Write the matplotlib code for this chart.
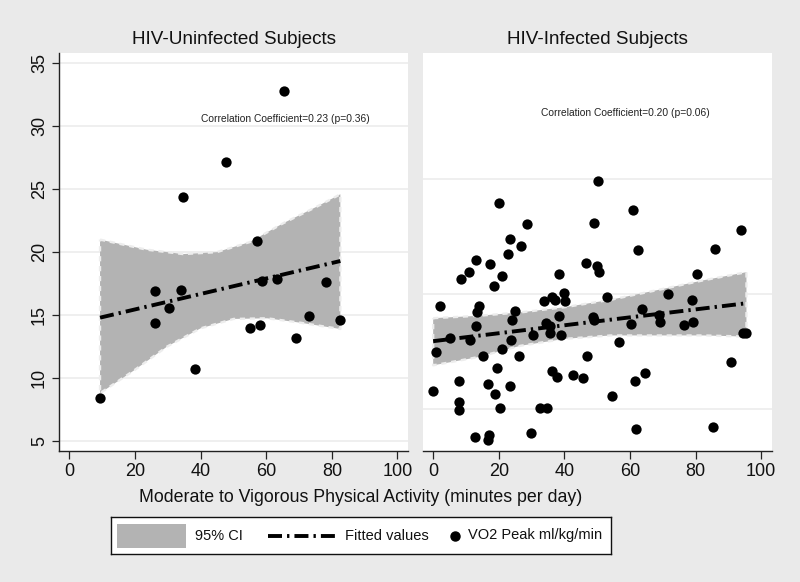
import matplotlib
matplotlib.use("Agg")
import matplotlib.pyplot as plt
from matplotlib.patches import Rectangle
from matplotlib.lines import Line2D

plt.rcParams['font.family'] = ['Liberation Sans', 'DejaVu Sans']

# ---------------- data ----------------
panel_titles = ["HIV-Uninfected Subjects", "HIV-Infected Subjects"]
x_label = "Moderate to Vigorous Physical Activity (minutes per day)"
x_ticks = [0, 20, 40, 60, 80, 100]
left_y_ticks = [5, 10, 15, 20, 25, 30, 35]
right_y_grid = [10, 20, 30]
annot_left = "Correlation Coefficient=0.23 (p=0.36)"
annot_right = "Correlation Coefficient=0.20 (p=0.06)"
legend_labels = ["95% CI", "Fitted values", "VO2 Peak ml/kg/min"]

uninf_x = [9.4, 26.2, 26.2, 30.4, 34.1, 34.7, 38.4, 47.7, 55.0, 57.1,
           58.2, 58.6, 63.2, 65.4, 69.0, 73.1, 78.2, 82.6]
uninf_y = [8.4, 16.9, 14.4, 15.6, 17.0, 24.4, 10.7, 27.2, 14.0, 20.9,
           14.2, 17.7, 17.9, 32.8, 13.2, 14.9, 17.6, 14.6]
uninf_fit_x = [9.4, 82.6]
uninf_fit_y = [14.8, 19.3]
uninf_ci_up_x = [9.4, 23.6, 34.7, 44.9, 55.0, 65.2, 75.3, 82.6]
uninf_ci_up_y = [21.0, 20.2, 19.85, 20.0, 20.8, 22.3, 23.6, 24.6]
uninf_ci_lo_x = [9.4, 19.7, 29.8, 40.0, 50.1, 60.3, 70.4, 82.6]
uninf_ci_lo_y = [8.8, 10.6, 12.5, 13.95, 14.7, 14.75, 14.4, 13.9]

inf_x = [0.0, 1.0, 2.2, 5.1, 7.9, 7.9, 7.9, 8.6, 10.8, 11.2,
         12.7, 13.0, 13.0, 13.3, 13.9, 15.1, 16.7, 17.1, 16.8, 17.3,
         18.5, 18.9, 19.6, 20.1, 20.4, 21.0, 21.1, 22.8, 23.4, 23.5,
         23.8, 24.1, 24.9, 26.2, 26.9, 28.6, 29.9, 30.4, 32.5, 33.8,
         34.3, 34.7, 35.6, 35.7, 36.2, 36.2, 37.1, 37.6, 38.5, 38.5,
         38.9, 40.0, 40.3, 42.5, 45.6, 46.7, 46.9, 48.8, 48.9, 49.1,
         50.0, 50.1, 50.6, 53.0, 54.5, 56.7, 60.4, 60.9, 61.4, 61.9,
         62.3, 63.8, 64.7, 68.8, 69.0, 71.6, 76.4, 79.0, 79.1, 80.4,
         85.3, 86.0, 90.9, 93.8, 94.4, 95.5]
inf_y = [11.6, 15.0, 19.0, 16.2, 12.4, 10.6, 9.9, 21.3, 21.9, 16.0,
         7.6, 23.0, 17.2, 18.4, 19.0, 14.6, 12.2, 7.7, 7.3, 22.6,
         20.7, 11.3, 13.6, 27.9, 10.1, 15.2, 21.6, 23.5, 24.8, 12.0,
         16.0, 17.7, 18.5, 14.6, 24.2, 26.1, 7.9, 16.4, 10.1, 19.4,
         17.5, 10.1, 16.6, 17.2, 19.7, 13.3, 19.5, 12.8, 21.7, 18.1,
         16.4, 20.1, 19.4, 13.0, 12.7, 22.7, 14.6, 18.0, 26.2, 17.7,
         22.4, 29.8, 21.9, 19.7, 11.1, 15.8, 17.4, 27.3, 12.4, 8.3,
         23.8, 18.7, 13.1, 18.2, 17.6, 20.0, 17.3, 19.5, 17.6, 21.7,
         8.4, 23.9, 14.1, 25.6, 16.6, 16.6]
inf_fit_x = [0.0, 95.5]
inf_fit_y = [15.9, 19.2]
inf_ci_x = [0.0, 13.4, 26.6, 40.0, 54.1, 69.3, 82.5, 95.5]
inf_ci_up_y = [17.9, 18.1, 18.4, 18.85, 19.5, 20.4, 21.2, 21.9]
inf_ci_lo_y = [13.8, 14.5, 15.5, 16.1, 16.4, 16.4, 16.4, 16.3]

# ---------------- style ----------------
BG = '#eaeaea'
GRID = '#ececec'
BAND = '#b3b3b3'
BAND_EDGE = '#ededed'
FIT_DASH = (3.6, 1.3, 0.6, 1.3)
TXT = '#111111'

fig = plt.figure(figsize=(8.0, 5.82), dpi=100)
fig.patch.set_facecolor(BG)

W, H = 800.0, 582.0
def ax_rect(x0, y0, x1, y1):
    return [x0 / W, 1 - y1 / H, (x1 - x0) / W, (y1 - y0) / H]

axL = fig.add_axes(ax_rect(59, 53, 408, 451))
axR = fig.add_axes(ax_rect(423, 53, 771.7, 451))


def draw_band(ax, ux, uy, lx, ly):
    px = list(ux) + list(lx)[::-1]
    py = list(uy) + list(ly)[::-1]
    ax.fill(px, py, color=BAND, lw=0, zorder=2)
    ax.plot(px + [px[0]], py + [py[0]], color=BAND_EDGE, lw=1.7,
            dashes=(2.2, 2.0), zorder=2.5)


for ax in (axL, axR):
    ax.set_facecolor('white')
    ax.set_xlim(-3.1, 103.2)
    ax.set_xticks(x_ticks)
    ax.set_xticklabels([str(t) for t in x_ticks], fontsize=13, color=TXT)
    ax.tick_params(axis='x', length=6, width=0.9, pad=3, color='#222222')
    for s in ('top', 'right'):
        ax.spines[s].set_visible(False)
    ax.spines['bottom'].set_linewidth(1.0)
    ax.spines['bottom'].set_color('#222222')

# left panel
axL.set_ylim(4.21, 35.82)
axL.set_yticks(left_y_ticks)
axL.set_yticklabels([str(t) for t in left_y_ticks], fontsize=13,
                    rotation=90, va='center', color=TXT)
axL.tick_params(axis='y', length=5, width=0.9, pad=3, color='#222222')
axL.spines['left'].set_linewidth(1.0)
axL.spines['left'].set_color('#222222')
axL.grid(axis='y', color=GRID, lw=1.2, zorder=0)
axL.set_axisbelow(True)
draw_band(axL, uninf_ci_up_x, uninf_ci_up_y, uninf_ci_lo_x, uninf_ci_lo_y)
axL.plot(uninf_fit_x, uninf_fit_y, color='black', lw=2.8,
         dashes=FIT_DASH, zorder=3)
axL.scatter(uninf_x, uninf_y, s=55, color='black', zorder=4, lw=0)
axL.text(40.0, 30.55, annot_left, fontsize=7.4, va='center', ha='left',
         color='#222222')

# right panel
axR.set_ylim(6.35, 40.96)
axR.set_yticks(right_y_grid)
axR.set_yticklabels([])
axR.tick_params(axis='y', length=0)
axR.spines['left'].set_visible(False)
axR.grid(axis='y', color=GRID, lw=1.2, zorder=0)
axR.set_axisbelow(True)
draw_band(axR, inf_ci_x, inf_ci_up_y, inf_ci_x, inf_ci_lo_y)
axR.plot(inf_fit_x, inf_fit_y, color='black', lw=2.8,
         dashes=FIT_DASH, zorder=3)
axR.scatter(inf_x, inf_y, s=55, color='black', zorder=4, lw=0)
axR.text(33.0, 35.77, annot_right, fontsize=7.4, va='center', ha='left',
         color='#222222')

# titles
fig.text(233.5 / W, 1 - 40 / H, panel_titles[0], fontsize=13.6,
         ha='center', va='center', color=TXT)
fig.text(597 / W, 1 - 40 / H, panel_titles[1], fontsize=13.6,
         ha='center', va='center', color=TXT)

# x label
fig.text(361 / W, 1 - 498 / H, x_label, fontsize=12.8, ha='center',
         va='center', color=TXT)

# legend (manual layout inside a framed box)
axLeg = fig.add_axes(ax_rect(111, 516.7, 611, 554))
axLeg.set_xlim(111, 611)
axLeg.set_ylim(554, 516.7)
axLeg.set_xticks([])
axLeg.set_yticks([])
axLeg.set_facecolor('white')
for s in axLeg.spines.values():
    s.set_linewidth(1.0)
    s.set_color('#111111')
yc = 535.5
axLeg.add_patch(Rectangle((117, 523.5), 69, 24, color=BAND, lw=0))
axLeg.text(195, yc, legend_labels[0], fontsize=10.5, va='center', ha='left',
           color=TXT)
axLeg.add_line(Line2D([268, 335], [yc, yc], color='black', lw=2.8,
                      dashes=FIT_DASH))
axLeg.text(345, yc, legend_labels[1], fontsize=10.5, va='center', ha='left',
           color=TXT)
axLeg.plot([455], [yc], 'o', color='black', ms=6.5)
axLeg.text(468, yc, legend_labels[2], fontsize=10.5, va='center', ha='left',
           color=TXT)

fig.savefig('out.png', dpi=100, facecolor=BG)
